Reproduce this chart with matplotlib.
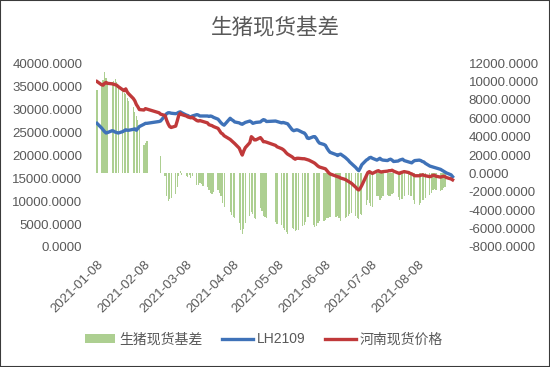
import matplotlib
matplotlib.use("Agg")
import matplotlib.pyplot as plt
import numpy as np
import pandas as pd

plt.rcParams['font.family'] = ['Liberation Sans', 'Noto Sans CJK SC', 'DejaVu Sans']

holidays = ['2021-02-11', '2021-02-12', '2021-02-15', '2021-02-16', '2021-02-17',
            '2021-04-05', '2021-05-03', '2021-05-04', '2021-05-05', '2021-06-14']
dates = pd.bdate_range('2021-01-08', '2021-08-31', freq='C', holidays=holidays)

# 河南现货价格
spot = [36000, 35300, 35200, 35600, 35800, 35600, 35500, 35400, 35300, 35200, 34900, 34200, 34000, 34400, 33700, 33300,
        32300, 31800, 31000, 30500, 29900, 29800, 30100, 30000, 29200, 28900, 28600, 27600, 26800, 26200, 26000,
        26300, 27400, 28600, 29100, 28800, 28500, 28300, 28200, 28100, 28200, 27500, 27400, 27500, 27400, 27300,
        27000, 26600, 26500, 26400, 26200, 25800, 25300, 24800,
        24600, 24200, 23400, 23100, 22800, 22500, 21500, 20700, 20000, 20900, 21600, 22700, 24000, 23700, 23300, 23300,
        23800, 23400, 22900, 22900, 22800,
        22100, 21800, 21400, 21200, 20900, 20500, 20200, 19600, 19300, 19100, 19300, 19300, 19200, 19200, 19100, 19000,
        18900, 18400,
        18200, 17900, 17600, 17400, 17100, 17000, 16600, 16200, 15900, 15400, 15300, 15200, 15000, 14700, 14500, 14300,
        14100, 13900, 13000, 12600, 12400,
        12800, 13400, 15500, 16200, 16400, 16200, 16000, 16500, 16600, 16400, 16300, 16400, 16500, 16600, 16600, 16700,
        16500, 16100, 16000, 16200, 16300, 16400,
        16200, 16000, 15900, 15700, 15500, 15500, 15600, 15700, 15600, 15500, 15300, 15400, 15600, 15600, 15400, 15200,
        15300, 15400, 15300, 15100, 14800, 14600]

# LH2109
futures = [26900, 25900, 25500, 25100, 24800, 24900, 25300, 25200, 25000, 24900, 24800, 25100, 25300, 25500, 25400, 25400,
           25600, 25700, 25400, 25800, 26200, 26700, 26900, 26900, 27300, 27400, 28600, 29000, 29200, 29200, 29100,
           29000, 29100, 29300, 29400, 29200, 28700, 28600, 28400, 28300, 28500, 28800, 28700, 28500, 28500, 28500,
           28500, 28400, 28500, 28400, 28200, 27800, 27400, 27000,
           26700, 26500, 28000, 27700, 27500, 27200, 27000, 26800, 26700, 26900, 27100, 27400, 27200, 26900, 27000, 27100,
           27200, 27500, 27700, 27600, 27300,
           27400, 27300, 27000, 27100, 27000, 26900, 26800, 25500, 25300, 25400, 25500, 25400, 24900, 24800, 24400, 23700,
           23600, 24000,
           24000, 23600, 23000, 22600, 22300, 22100, 21500, 21000, 20600, 20100, 19900, 20100, 20200, 19500, 19200, 18900,
           18500, 18200, 17300, 16900, 16600,
           17200, 17900, 18900, 19100, 19400, 19500, 19300, 18900, 19100, 19300, 19000, 18900, 18800, 19000, 19100, 18900,
           18600, 18700, 18900, 19000, 19100, 18800,
           18500, 18400, 18300, 18600, 18800, 18900, 18800, 18600, 18500, 18200, 17600, 17500, 17400, 17300, 17200, 16900,
           16700, 16500, 16300, 16100, 15700, 15300]

nan = np.nan
# 生猪现货基差
basis = [9100, 9700, 10200, 11000, 10400, 10000, 9900, 10100, 10300, 10000, 9600, 9200, 8800, 8600, 8200, 7900,
         7200, 6700, 6200, 5800, 5300, 3100, 3300, 3500, nan, 1900, -300, -2500, -3000, -2800, -2700,
         -2200, -1500, -300, 300, -200, -300, -400, -200, -500, -300, -1300, -1300, -1000, -1100, -1400,
         -1500, -1800, -2100, -2200, -2000, -1800, -2100, -2400,
         -3200, -3600, -4200, -4500, -4700, -4800, -5400, -6100, -6600, -6000, -5400, -4600, -4200, -4400, -4800, -5000,
         -3800, -4100, -4600, -4700, -4900,
         -5300, -5500, -5600, -5900, -6100, -6400, -6600, -5900, -6000, -6300, -6200, -6100, -5700, -5600, -5300, -4700,
         -4700, -5600,
         -5800, -5700, -5400, -5200, -5200, -5100, -4900, -4800, -4700, -4700, -4600, -4900, -5200, -4800, -4700, -4600,
         -4400, -4300, -4600, -4800, -5000,
         -4400, -4500, -3400, -2900, -3200, -3500, -3700, -2400, -2500, -2900, -2700, -2500, -2300, -2400, -2500, -2200,
         -2100, -2600, -2900, -2800, -2800, -2400,
         -2300, -2400, -2400, -2900, -3300, -3400, -3200, -2900, -2900, -2700, -2300, -2100, -1800, -1700, -1800, -1900,
         -1800, -1600, -1500, nan, nan, nan]

tick_dates = ['2021-01-08', '2021-02-08', '2021-03-08', '2021-04-08',
              '2021-05-08', '2021-06-08', '2021-07-08', '2021-08-08']

assert len(dates) == len(spot) == len(futures) == len(basis)

gray = '#595959'
fig = plt.figure(figsize=(5.5, 3.67), dpi=100)
ax = fig.add_axes([0.175, 0.327, 0.652, 0.501])
ax2 = ax.twinx()

b = ax2.bar(dates, basis, width=0.8, color='#ADCF91', linewidth=0, label='生猪现货基差')
l1, = ax.plot(dates, futures, color='#3F72B8', lw=2.4, label='LH2109')
l2, = ax.plot(dates, spot, color='#C0393A', lw=2.4, label='河南现货价格')

ax.set_zorder(ax2.get_zorder() + 1)
ax.patch.set_visible(False)

ax.set_ylim(0, 40000)
ax.set_yticks(np.arange(0, 40001, 5000))
ax.set_yticklabels(['%.4f' % v for v in np.arange(0, 40001, 5000)])
ax2.set_ylim(-8000, 12000)
ax2.set_yticks(np.arange(-8000, 12001, 2000))
ax2.set_yticklabels(['%.4f' % v for v in np.arange(-8000, 12001, 2000)])

ax.set_xlim(pd.Timestamp('2021-01-07 12:00'), pd.Timestamp('2021-09-01 12:00'))
ax.set_xticks(pd.to_datetime(tick_dates))
ax.set_xticklabels(tick_dates, rotation=45, ha='right', rotation_mode='anchor')

for a in (ax, ax2):
    for s in a.spines.values():
        s.set_visible(False)
    a.tick_params(length=0, labelsize=9.5, labelcolor=gray)
ax.tick_params(axis='y', pad=10)
ax2.tick_params(axis='y', pad=10)
ax.tick_params(axis='x', pad=8)

fig.text(0.5, 0.925, '生猪现货基差', ha='center', va='center', fontsize=15.5, color=gray)

fig.legend([b, l1, l2], ['生猪现货基差', 'LH2109', '河南现货价格'], loc='center',
           bbox_to_anchor=(0.48, 0.075), ncol=3, frameon=False, fontsize=10,
           labelcolor=gray, handlelength=2.2, handletextpad=0.3, columnspacing=1.4)

fig.add_artist(plt.Rectangle((0, 0), 1, 1, transform=fig.transFigure, fill=False,
                             edgecolor='#3a3a3a', linewidth=1.5))

fig.savefig('out.png', dpi=100)
